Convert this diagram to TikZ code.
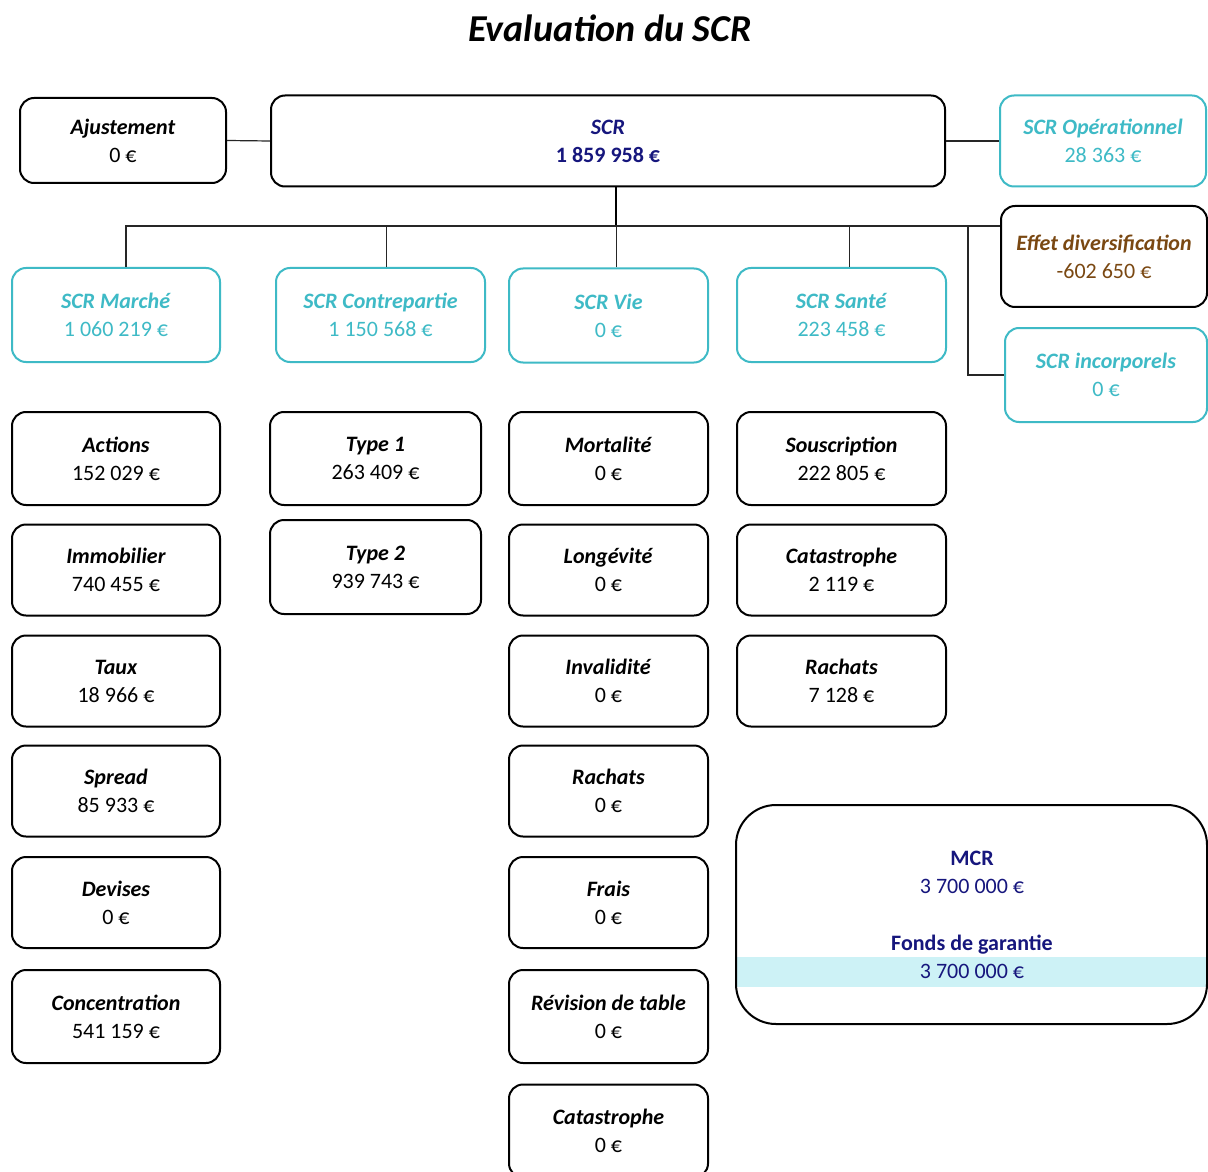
\documentclass[tikz,border=0pt]{standalone}
\usepackage{fontspec}
\setmainfont{Carlito}
\definecolor{scrteal}{RGB}{62,186,198}
\definecolor{scrnavy}{RGB}{22,22,125}
\definecolor{scrbrown}{RGB}{122,72,18}
\definecolor{bandcyan}{RGB}{205,242,246}
\newcommand{\modname}[1]{\textbf{\textit{#1}}}

\begin{document}
\begin{tikzpicture}[
    x=0.5pt, y=-0.5pt,
    font=\fontsize{11}{14}\selectfont,
    box/.style={draw, rounded corners=7pt, line width=1pt, align=center, inner sep=2pt, minimum height=45.5pt},
    tealbox/.style={box, draw=scrteal, text=scrteal},
    link/.style={line width=0.6pt, draw=black!85},
    stem/.style={line width=1.3pt}
]

% Canvas
\path[use as bounding box, fill=white] (0,0) rectangle (1208,1171);
\clip (0,0) rectangle (1208,1171);

% Title
\node (title) at (610,28) {\fontsize{19}{23}\selectfont\modname{Evaluation du SCR}};

% Top row
\node[box, minimum width=103pt, minimum height=42.5pt] (ajust) at (123,140.5) {\modname{Ajustement}\\0 €};
\node[box, minimum width=337pt, text=scrnavy] (scr) at (608,141) {\modname{SCR}\\\textbf{1 859 958 €}};
\node[tealbox, minimum width=103pt] (operat) at (1103,141) {\modname{SCR Opérationnel}\\28 363 €};
\node[box, minimum width=103pt, minimum height=50.5pt, text=scrbrown] (divers) at (1104,256.5) {\modname{Effet diversification}\\-602 650 €};
\node[tealbox, minimum width=101pt, minimum height=47pt] (incorp) at (1106,375) {\modname{SCR incorporels}\\0 €};

% Modules
\node[tealbox, minimum width=104pt, minimum height=47pt] (marche) at (116,315) {\modname{SCR Marché}\\1 060 219 €};
\node[tealbox, minimum width=104.5pt, minimum height=47pt] (contre) at (380.5,315) {\modname{SCR Contrepartie}\\1 150 568 €};
\node[tealbox, minimum width=99.5pt, minimum height=47pt] (vie) at (608.5,315.5) {\modname{SCR Vie}\\0 €};
\node[tealbox, minimum width=104.5pt, minimum height=47pt] (sante) at (841.5,315) {\modname{SCR Santé}\\223 458 €};

% Marché sub-modules
\node[box, minimum width=104pt, minimum height=46.5pt] (actions) at (116,458.5) {\modname{Actions}\\152 029 €};
\node[box, minimum width=104pt] (immo) at (116,570) {\modname{Immobilier}\\740 455 €};
\node[box, minimum width=104pt] (taux) at (116,681) {\modname{Taux}\\18 966 €};
\node[box, minimum width=104pt] (spread) at (116,791) {\modname{Spread}\\85 933 €};
\node[box, minimum width=104pt] (devises) at (116,902.5) {\modname{Devises}\\0 €};
\node[box, minimum width=104pt, minimum height=46.5pt] (concent) at (116,1016.5) {\modname{Concentration}\\541 159 €};

% Contrepartie sub-modules
\node[box, minimum width=105.5pt, minimum height=46.5pt] (type1) at (375.5,458.5) {\modname{Type 1}\\263 409 €};
\node[box, minimum width=105.5pt, minimum height=47pt] (type2) at (375.5,567) {\modname{Type 2}\\939 743 €};

% Vie sub-modules
\node[box, minimum width=99.5pt, minimum height=46.5pt] (mortal) at (608.5,458.5) {\modname{Mortalité}\\0 €};
\node[box, minimum width=99.5pt] (longev) at (608.5,570) {\modname{Longévité}\\0 €};
\node[box, minimum width=99.5pt] (invalid) at (608.5,681) {\modname{Invalidité}\\0 €};
\node[box, minimum width=99.5pt] (rachvie) at (608.5,791) {\modname{Rachats}\\0 €};
\node[box, minimum width=99.5pt] (frais) at (608.5,902.5) {\modname{Frais}\\0 €};
\node[box, minimum width=99.5pt, minimum height=46.5pt] (revision) at (608.5,1016.5) {\modname{Révision de table}\\0 €};
\node[box, minimum width=99.5pt, minimum height=46.5pt] (catvie) at (608.5,1131) {\modname{Catastrophe}\\0 €};

% Santé sub-modules
\node[box, minimum width=104.5pt, minimum height=46.5pt] (souscr) at (841.5,458.5) {\modname{Souscription}\\222 805 €};
\node[box, minimum width=104.5pt] (catsante) at (841.5,570) {\modname{Catastrophe}\\2 119 €};
\node[box, minimum width=104.5pt] (rachsante) at (841.5,681) {\modname{Rachats}\\7 128 €};

% MCR
\fill[bandcyan] (737,957) rectangle (1206,987);
\node[box, rounded corners=20pt, minimum width=235.5pt, minimum height=109.5pt] (mcrbox) at (971.5,914.5) {};
\node[text=scrnavy, align=center] (mcr) at (972,872) {\textbf{MCR}\\3 700 000 €};
\node[text=scrnavy, align=center] (fonds) at (972,957) {\textbf{Fonds de garantie}\\3 700 000 €};

% Links
\coordinate (bus) at (616,226);
\coordinate (split) at (968,226);
\draw[link] (ajust.east) -- (scr.west);
\draw[link] (scr.east) -- (operat.west);
\draw[stem] ([xshift=4pt]scr.south) -- (bus);
\draw[link] ([xshift=5pt]marche.north) |- (divers.west |- bus);
\draw[link] ([xshift=3pt]contre.north) -- ([xshift=3pt]contre.north |- bus);
\draw[link] ([xshift=4pt]vie.north) -- ([xshift=4pt]vie.north |- bus);
\draw[link] ([xshift=4pt]sante.north) -- ([xshift=4pt]sante.north |- bus);
\draw[link] (split) |- (incorp.west);

\end{tikzpicture}
\end{document}
